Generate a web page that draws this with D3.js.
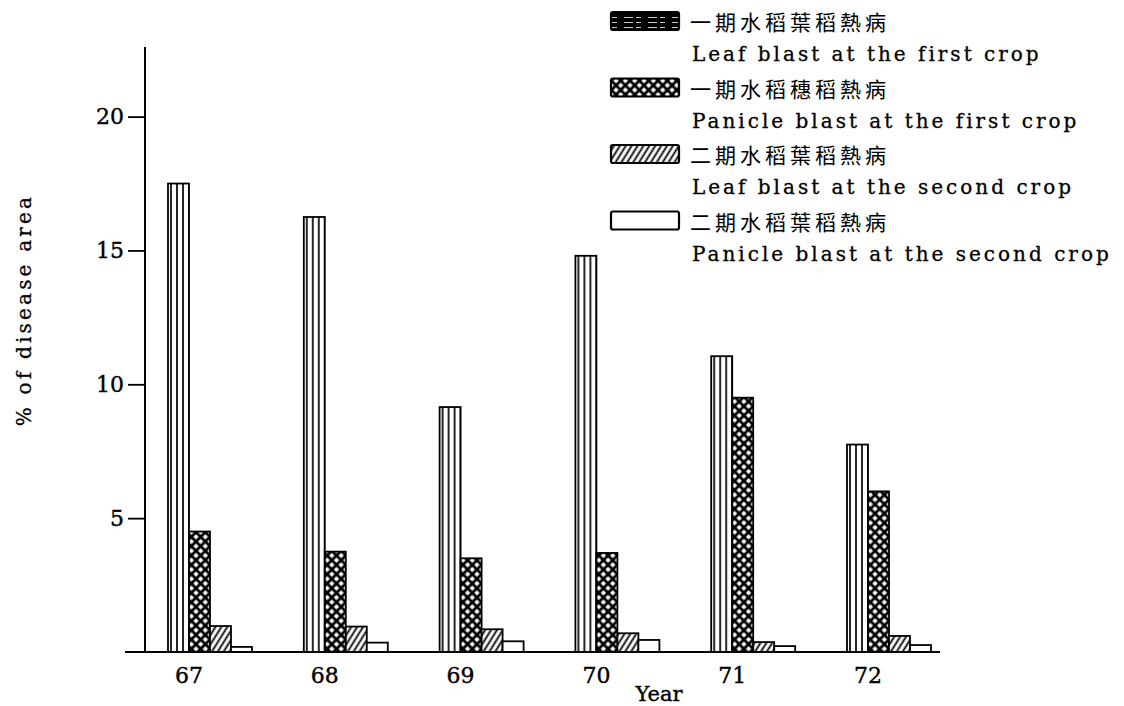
<!DOCTYPE html>
<html>
<head>
<meta charset="utf-8">
<script src="https://cdn.jsdelivr.net/npm/d3@7"></script>
<style>
  body { margin: 0; background: #fff; }
  text { fill: #000; }
</style>
</head>
<body>
<svg id="chart"></svg>
<script>
// ---------------- data ----------------
const years = ["67", "68", "69", "70", "71", "72"];
const leafFirst     = [17.5, 16.25, 9.15, 14.8, 11.05, 7.75];
const panicleFirst  = [4.5, 3.75, 3.5, 3.7, 9.5, 6.0];
const leafSecond    = [0.97, 0.95, 0.85, 0.7, 0.37, 0.6];
const panicleSecond = [0.19, 0.35, 0.4, 0.45, 0.22, 0.26];
const yTicks = [5, 10, 15, 20];

const seriesKeys = ["leafFirst", "panicleFirst", "leafSecond", "panicleSecond"];
const zhLabels = ["一期水稻葉稻熱病", "一期水稻穗稻熱病", "二期水稻葉稻熱病", "二期水稻葉稻熱病"];
const enLabels = ["Leaf blast at the first crop", "Panicle blast at the first crop",
                  "Leaf blast at the second crop", "Panicle blast at the second crop"];

// build rows for d3
const table = years.map((yr, i) => ({
  year: yr,
  leafFirst: leafFirst[i],
  panicleFirst: panicleFirst[i],
  leafSecond: leafSecond[i],
  panicleSecond: panicleSecond[i]
}));

// ---------------- layout ----------------
const width = 1124, height = 706;
const axisX = 145, baseY = 652;
const serif = "'DejaVu Serif', serif";

const svg = d3.select("#chart")
  .attr("width", width)
  .attr("height", height);

const x0 = d3.scaleBand()
  .domain(years)
  .range([168, 931])
  .paddingInner(0.3815)
  .paddingOuter(0);

const x1 = d3.scaleBand()
  .domain(seriesKeys)
  .range([0, x0.bandwidth()]);

const y = d3.scaleLinear()
  .domain([0, 22.6])
  .range([baseY, 47]);

// ---------------- patterns ----------------
const defs = svg.append("defs");

// vertical stripes (leaf blast first crop)
const pv = defs.append("pattern").attr("id", "pVert")
  .attr("patternUnits", "userSpaceOnUse").attr("width", 6).attr("height", 10);
pv.append("rect").attr("width", 6).attr("height", 10).attr("fill", "#fff");
pv.append("line").attr("x1", 3).attr("y1", 0).attr("x2", 3).attr("y2", 10)
  .attr("stroke", "#000").attr("stroke-width", 1.7);

// cross hatch (panicle blast first crop) : white diamonds on black
const pc = defs.append("pattern").attr("id", "pCross")
  .attr("patternUnits", "userSpaceOnUse").attr("width", 6.6).attr("height", 6.6)
  .attr("patternTransform", "rotate(45)");
pc.append("rect").attr("width", 6.6).attr("height", 6.6).attr("fill", "#000");
pc.append("rect").attr("x", 1.5).attr("y", 1.5).attr("width", 3.8).attr("height", 3.8).attr("fill", "#fff");

// diagonal lines (leaf blast second crop)
const pd = defs.append("pattern").attr("id", "pDiag")
  .attr("patternUnits", "userSpaceOnUse").attr("width", 5).attr("height", 5)
  .attr("patternTransform", "rotate(32)");
pd.append("rect").attr("width", 5).attr("height", 5).attr("fill", "#fff");
pd.append("line").attr("x1", 2.5).attr("y1", 0).attr("x2", 2.5).attr("y2", 5)
  .attr("stroke", "#000").attr("stroke-width", 1.8);

// horizontal specks (legend swatch of first series)
const ph = defs.append("pattern").attr("id", "pHoriz")
  .attr("patternUnits", "userSpaceOnUse").attr("width", 24).attr("height", 5);
ph.append("rect").attr("width", 24).attr("height", 5).attr("fill", "#000");
ph.append("line").attr("x1", 0).attr("y1", 2.5).attr("x2", 24).attr("y2", 2.5)
  .attr("stroke", "#fff").attr("stroke-width", 0.8).attr("stroke-dasharray", "9 3 5 7");

const barFill = {
  leafFirst: "url(#pVert)",
  panicleFirst: "url(#pCross)",
  leafSecond: "url(#pDiag)",
  panicleSecond: "#fff"
};
const swatchFill = ["url(#pHoriz)", "url(#pCross)", "url(#pDiag)", "#fff"];

// ---------------- bars ----------------
const groups = svg.append("g").selectAll("g")
  .data(table)
  .join("g")
  .attr("transform", d => "translate(" + x0(d.year) + ",0)");

groups.selectAll("rect")
  .data(d => seriesKeys.map(k => ({ key: k, value: d[k] })))
  .join("rect")
  .attr("x", d => x1(d.key))
  .attr("y", d => y(d.value))
  .attr("width", x1.bandwidth())
  .attr("height", d => baseY - y(d.value))
  .attr("fill", d => barFill[d.key])
  .attr("stroke", "#000")
  .attr("stroke-width", 1.8);

// ---------------- axes ----------------
// y axis
const yAxis = svg.append("g")
  .attr("transform", "translate(" + axisX + ",0)")
  .call(d3.axisLeft(y).tickValues(yTicks).tickSize(17).tickPadding(4));
yAxis.select(".domain").remove();
yAxis.selectAll(".tick line").attr("stroke", "#000").attr("stroke-width", 1.8);
yAxis.selectAll(".tick text")
  .attr("font-family", serif).attr("font-size", 22)
  .attr("stroke", "#000").attr("stroke-width", 0.4)
  .attr("fill", "#000");

svg.append("line")
  .attr("x1", axisX).attr("x2", axisX)
  .attr("y1", y(22.6)).attr("y2", baseY + 1)
  .attr("stroke", "#000").attr("stroke-width", 2);

// x axis baseline
svg.append("line")
  .attr("x1", 125).attr("x2", 940)
  .attr("y1", baseY).attr("y2", baseY)
  .attr("stroke", "#000").attr("stroke-width", 2);

// year labels, placed at the seam of first and second bars like the original
svg.append("g").selectAll("text")
  .data(years)
  .join("text")
  .attr("x", d => x0(d) + x1.bandwidth())
  .attr("y", 683)
  .attr("text-anchor", "middle")
  .attr("font-family", serif)
  .attr("font-size", 22)
  .attr("stroke", "#000").attr("stroke-width", 0.4)
  .text(d => d);

svg.append("text")
  .attr("x", 659).attr("y", 701)
  .attr("text-anchor", "middle")
  .attr("font-family", serif)
  .attr("font-size", 21)
  .attr("stroke", "#000").attr("stroke-width", 0.4)
  .text("Year");

svg.append("text")
  .attr("transform", "translate(31,310) rotate(-90)")
  .attr("text-anchor", "middle")
  .attr("font-family", serif)
  .attr("font-size", 20)
  .attr("letter-spacing", 3.2)
  .attr("stroke", "#000").attr("stroke-width", 0.3)
  .text("% of disease area");

// ---------------- legend ----------------
const legend = svg.append("g");
const rowStep = 66.5;
const leg = legend.selectAll("g")
  .data(seriesKeys)
  .join("g")
  .attr("transform", (d, i) => "translate(0," + (i * rowStep) + ")");

leg.append("rect")
  .attr("x", 611).attr("y", 12)
  .attr("width", 68).attr("height", 18)
  .attr("rx", 2)
  .attr("fill", (d, i) => swatchFill[i])
  .attr("stroke", "#000")
  .attr("stroke-width", 2.2);

leg.append("text")
  .attr("x", 690).attr("y", 30)
  .attr("font-family", "'Noto Sans CJK TC', 'Noto Sans CJK SC', sans-serif")
  .attr("font-size", 21)
  .attr("letter-spacing", 4)
  .text((d, i) => zhLabels[i]);

leg.append("text")
  .attr("x", 692).attr("y", 61)
  .attr("font-family", serif)
  .attr("font-size", 20)
  .attr("letter-spacing", 3)
  .attr("stroke", "#000").attr("stroke-width", 0.3)
  .text((d, i) => enLabels[i]);
</script>
</body>
</html>
